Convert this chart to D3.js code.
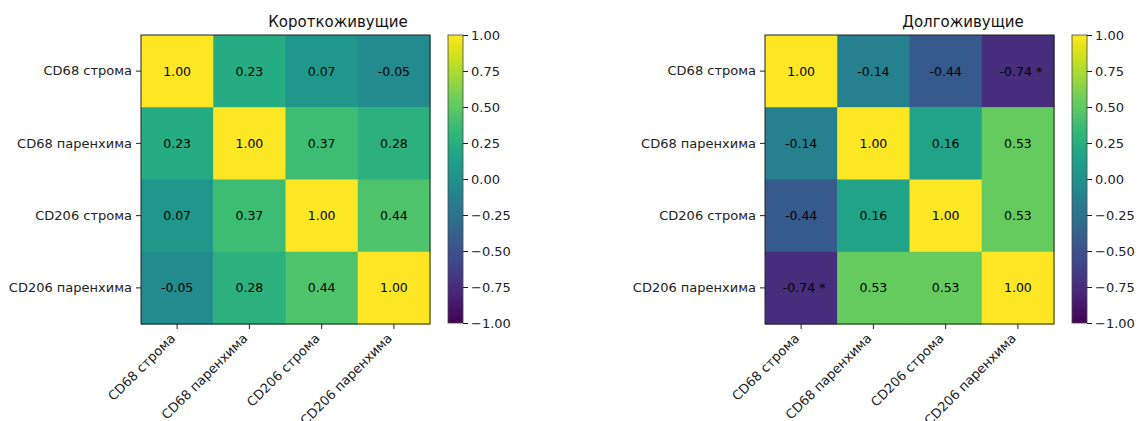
<!DOCTYPE html>
<html>
<head>
<meta charset="utf-8">
<script src="https://cdn.jsdelivr.net/npm/d3@7"></script>
<style>
  body { margin: 0; background: #fff; }
  text { font-family: "DejaVu Sans", sans-serif; }
</style>
</head>
<body>
<svg id="chart" width="1138" height="421"></svg>
<script>
var labels = ["CD68 строма", "CD68 паренхима", "CD206 строма", "CD206 паренхима"];

var shortLived = [
  [1.00, 0.23, 0.07, -0.05],
  [0.23, 1.00, 0.37, 0.28],
  [0.07, 0.37, 1.00, 0.44],
  [-0.05, 0.28, 0.44, 1.00]
];
var longLived = [
  [1.00, -0.14, -0.44, -0.74],
  [-0.14, 1.00, 0.16, 0.53],
  [-0.44, 0.16, 1.00, 0.53],
  [-0.74, 0.53, 0.53, 1.00]
];
// significance marks
var longStars = [
  [0, 0, 0, 1],
  [0, 0, 0, 0],
  [0, 0, 0, 0],
  [1, 0, 0, 0]
];
var noStars = [[0,0,0,0],[0,0,0,0],[0,0,0,0],[0,0,0,0]];

var cbTicks = [1.00, 0.75, 0.50, 0.25, 0.00, -0.25, -0.50, -0.75, -1.00];

var svg = d3.select("#chart");
var color = d3.scaleSequential(d3.interpolateViridis).domain([-1, 1]);
var fmt = function(v) { return d3.format(".2f")(v).replace("−", "-"); };
var tickFont = 13;

function drawPanel(id, title, data, stars, left, titleX, cbLeft) {
  var top = 35, size = 289;
  var g = svg.append("g").attr("id", id);

  var x = d3.scaleBand().domain(d3.range(4)).range([left, left + size]);
  var y = d3.scaleBand().domain(d3.range(4)).range([top, top + size]);

  var cells = [];
  data.forEach(function(row, i) {
    row.forEach(function(v, j) { cells.push({i: i, j: j, v: v, s: stars[i][j]}); });
  });

  g.selectAll("rect.cell").data(cells).enter().append("rect")
    .attr("class", "cell")
    .attr("x", function(d) { return x(d.j); })
    .attr("y", function(d) { return y(d.i); })
    .attr("width", x.bandwidth() + 0.5)
    .attr("height", y.bandwidth() + 0.5)
    .attr("fill", function(d) { return color(d.v); });

  g.selectAll("text.val").data(cells).enter().append("text")
    .attr("class", "val")
    .attr("x", function(d) { return x(d.j) + x.bandwidth() / 2 + (d.s ? 3 : 0); })
    .attr("y", function(d) { return y(d.i) + y.bandwidth() / 2; })
    .attr("text-anchor", "middle")
    .attr("dominant-baseline", "central")
    .attr("font-size", 12.5)
    .attr("fill", "#000")
    .text(function(d) { return fmt(d.v) + (d.s ? " *" : ""); });

  g.append("rect")
    .attr("x", left).attr("y", top).attr("width", size).attr("height", size)
    .attr("fill", "none").attr("stroke", "#222").attr("stroke-width", 1);

  var yAxis = g.append("g").attr("transform", "translate(" + left + ",0)")
    .call(d3.axisLeft(y).tickSize(5).tickPadding(4).tickFormat(function(k) { return labels[k]; }));
  yAxis.select(".domain").remove();
  yAxis.selectAll("text").attr("font-size", tickFont).attr("fill", "#222");
  yAxis.selectAll("line").attr("stroke", "#222");

  var xAxis = g.append("g").attr("transform", "translate(0," + (top + size) + ")")
    .call(d3.axisBottom(x).tickSize(5).tickFormat(function(k) { return labels[k]; }));
  xAxis.select(".domain").remove();
  xAxis.selectAll("line").attr("stroke", "#222");
  xAxis.selectAll("text")
    .attr("font-size", tickFont).attr("fill", "#222")
    .attr("text-anchor", "end")
    .attr("x", 0).attr("y", 0).attr("dy", 0)
    .attr("transform", "translate(-1,15) rotate(-45)");

  g.append("text")
    .attr("x", titleX).attr("y", 27)
    .attr("text-anchor", "middle")
    .attr("font-size", 15)
    .attr("fill", "#111")
    .text(title);

  // colorbar
  var cbW = 15;
  var gradId = "grad-" + id;
  var grad = svg.append("defs").append("linearGradient")
    .attr("id", gradId).attr("x1", 0).attr("y1", 1).attr("x2", 0).attr("y2", 0);
  d3.range(0, 1.0001, 0.05).forEach(function(t) {
    grad.append("stop").attr("offset", t).attr("stop-color", d3.interpolateViridis(t));
  });
  g.append("rect")
    .attr("x", cbLeft).attr("y", top).attr("width", cbW).attr("height", size - 1)
    .attr("fill", "url(#" + gradId + ")")
    .attr("stroke", "#444").attr("stroke-width", 0.8);

  var cy = d3.scaleLinear().domain([-1, 1]).range([top + size - 1, top]);
  var cAxis = g.append("g").attr("transform", "translate(" + (cbLeft + cbW) + ",0)")
    .call(d3.axisRight(cy).tickValues(cbTicks).tickSize(5).tickPadding(3).tickFormat(d3.format(".2f")));
  cAxis.select(".domain").remove();
  cAxis.selectAll("text").attr("font-size", tickFont).attr("fill", "#222");
  cAxis.selectAll("line").attr("stroke", "#222");
}

drawPanel("short", "Короткоживущие", shortLived, noStars, 141, 338, 448);
drawPanel("long", "Долгоживущие", longLived, longStars, 765, 963, 1072);
</script>
</body>
</html>
